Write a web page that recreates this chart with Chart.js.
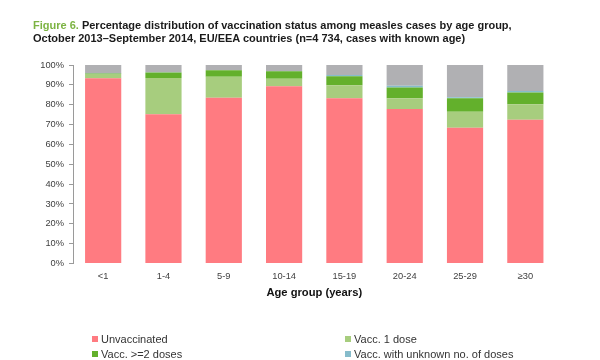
<!DOCTYPE html>
<html>
<head>
<meta charset="utf-8">
<script src="https://cdn.jsdelivr.net/npm/chart.js@4/dist/chart.umd.min.js"></script>
<style>
  html, body { margin: 0; padding: 0; background: #fff; }
  #wrap { position: relative; width: 600px; height: 360px; overflow: hidden; }
  #chart { position: absolute; left: 0; top: 0; }
  #title { position: absolute; left: 33px; top: 19px; font-family: "Liberation Sans", Arial, sans-serif;
           font-weight: bold; font-size: 11px; line-height: 13px; color: #1a1a1a; white-space: nowrap; }
  #title .fig { color: #7cb342; }
  #legend { position: absolute; left: 0; top: 0; width: 600px; height: 360px; pointer-events: none;
            font-family: "Liberation Sans", Arial, sans-serif; font-size: 11px; color: #333; }
  .li { position: absolute; white-space: nowrap; line-height: 14px; }
  .li .sw { display: inline-block; width: 6px; height: 6px; margin-right: 3px; vertical-align: 1px; }
</style>
</head>
<body>
<div id="wrap">
  <canvas id="chart" width="600" height="360"></canvas>
  <div id="title"><span class="fig">Figure 6.</span> Percentage distribution of vaccination status among measles cases by age group,<br>October 2013&#8211;September 2014, EU/EEA countries (n=4 734, cases with known age)</div>
  <div id="legend"></div>
</div>
<script>
const categories = ['<1', '1-4', '5-9', '10-14', '15-19', '20-24', '25-29', '\u226530'];
const unvaccinated   = [93.3, 75.2, 83.5, 89.3, 83.2, 77.8, 68.4, 72.4];
const oneDose        = [2.2, 18.3, 10.6, 3.8, 6.6, 5.4, 8.1, 7.8];
const twoPlusDoses   = [0.2, 2.7, 3.2, 3.8, 4.5, 5.5, 6.7, 5.9];
const unknownDoses   = [0.1, 0.1, 0.1, 0.1, 0.7, 0.8, 0.5, 0.8];
const unknownStatus  = [4.2, 3.7, 2.6, 3.0, 5.0, 10.5, 16.3, 13.1];
const yTicks = [0, 10, 20, 30, 40, 50, 60, 70, 80, 90, 100];

const seriesNames = ['Unvaccinated', 'Vacc. 1 dose', 'Vacc. >=2 doses', 'Vacc. with unknown no. of doses', 'Unknown'];
const seriesColors = ['#ff7b81', '#a7cd7e', '#63b02c', '#86bccb', '#b0b0b3'];
const seriesData = [unvaccinated, oneDose, twoPlusDoses, unknownDoses, unknownStatus];
const inLegend = [true, true, true, true, false];

const datasets = seriesData.map((d, i) => ({
  label: seriesNames[i],
  data: d,
  backgroundColor: seriesColors[i],
  borderWidth: 0,
  barPercentage: 0.6,
  categoryPercentage: 1.0,
  stack: 's'
}));

new Chart(document.getElementById('chart'), {
  type: 'bar',
  data: { labels: categories, datasets },
  options: {
    responsive: false,
    animation: false,
    layout: { padding: { top: 65, right: 44.5, left: 0, bottom: 0 } },
    plugins: { legend: { display: false }, tooltip: { enabled: false }, title: { display: false } },
    scales: {
      x: {
        stacked: true,
        grid: { display: false, drawTicks: false },
        border: { display: false },
        ticks: { color: '#404040', padding: 7, font: { family: 'Liberation Sans', size: 9.3 }, maxRotation: 0 },
        title: { display: true, text: 'Age group (years)', color: '#111',
                 font: { family: 'Liberation Sans', size: 11.2, weight: 'bold' },
                 padding: { top: 4, bottom: 60 } },
        afterFit: s => { s.height = 96.5; }
      },
      y: {
        stacked: true,
        min: 0, max: 100,
        afterBuildTicks: s => { s.ticks = yTicks.map(v => ({ value: v })); },
        ticks: { color: '#404040', padding: 5, font: { family: 'Liberation Sans', size: 9.3 },
                 callback: v => v + '%' },
        grid: { drawOnChartArea: false, drawTicks: true, tickLength: 4, color: '#9a9a9a' },
        border: { display: true, color: '#9a9a9a' },
        afterFit: s => { s.width = 73; }
      }
    }
  }
});

// HTML legend built from the dataset definitions
const legend = document.getElementById('legend');
const pos = [[92, 331.5], [345, 331.5], [92, 347], [345, 347]];
let k = 0;
seriesNames.forEach((name, i) => {
  if (!inLegend[i]) return;
  const el = document.createElement('div');
  el.className = 'li';
  el.style.left = pos[k][0] + 'px';
  el.style.top = pos[k][1] + 'px';
  const sw = document.createElement('span');
  sw.className = 'sw';
  sw.style.background = seriesColors[i];
  el.appendChild(sw);
  el.appendChild(document.createTextNode(name));
  legend.appendChild(el);
  k++;
});
</script>
</body>
</html>
